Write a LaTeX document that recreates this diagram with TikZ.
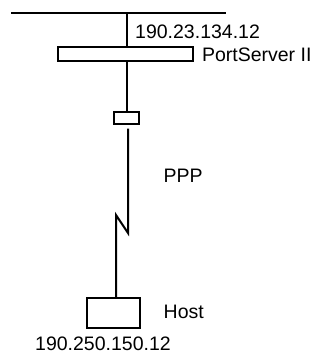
\documentclass[tikz,border=0pt]{standalone}
\usepackage{fontspec}
\setmainfont{Liberation Sans}
\usepackage{tikz}
\usetikzlibrary{positioning, calc}

\begin{document}
\begin{tikzpicture}[
    x=1pt, y=-1pt,
    unit/.style={rectangle, draw, line width=2pt, inner sep=0pt},
    label/.style={anchor=west, inner sep=0pt, font=\fontsize{19.5pt}{23pt}\selectfont},
    wire/.style={line width=2pt}
]
\useasboundingbox (0,0) rectangle (321,356);

% Network bus
\coordinate (busL) at (11,13);
\coordinate (busR) at (226,13);
\coordinate (tap) at (127,13);
\draw[wire] (busL) -- (busR);

% Devices
\node[unit, minimum width=135pt, minimum height=14pt] (ps) at (125.5,54) {};
\node[unit, minimum width=25pt, minimum height=12pt] (modem) at (126.5,118) {};
\node[unit, minimum width=53pt, minimum height=30pt] (host) at (113.5,313) {};

% Serial line with break
\coordinate (lineTop) at (128,128.5);
\coordinate (zigR) at (128,233);
\coordinate (zigL) at (116,215);

% Connections
\draw[wire] (tap) -- (tap |- ps.north);
\draw[wire] (ps.south -| tap) -- (modem.north -| tap);
\draw[wire] (lineTop) -- (zigR) -- (zigL) -- (zigL |- host.north);

% Labels
\node[label] (psip) at (135,31.5) {190.23.134.12};
\node[label] (psname) at (201.8,55) {PortServer II};
\node[label] (ppp) at (163.5,175.5) {PPP};
\node[label] (hostname) at (163.5,312) {Host};
\node[label] (hostip) at (35,344) {190.250.150.12};

\end{tikzpicture}
\end{document}
